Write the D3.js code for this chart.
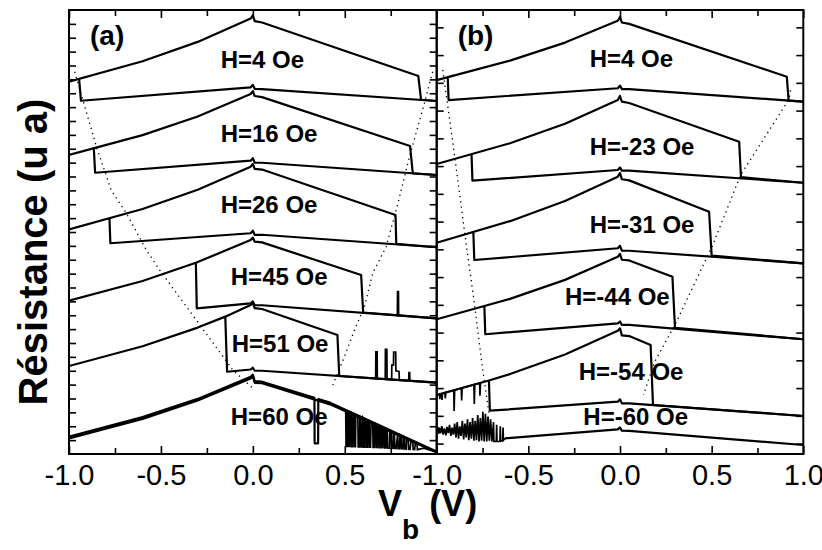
<!DOCTYPE html>
<html><head><meta charset="utf-8">
<script src="https://cdn.jsdelivr.net/npm/d3@7"></script>
<style>body{margin:0;background:#fff}svg{display:block}</style>
</head><body>
<svg id="c" width="822" height="550"></svg>
<script>
// ---------------- DATA ----------------
const xMajorTicks = [-1, -0.5, 0, 0.5, 1];
const xMinorTicks = [-0.75, -0.25, 0.25, 0.75];
const xTickLabelsA = ["-1.0", "-0.5", "0.0", "0.5", ""];
const xTickLabelsB = ["-1.0", "-0.5", "0.0", "0.5", "1.0"];
const yTicksA = [1,2,3,4,5,6,7,8,9,10,11,12,13,14,15,16,17,18,19,20,21,22,23,24,25,26,27,28,29,30,31];
const yTicksB = [0.75,2.75,4.75,6.75,8.75,10.75,12.75,14.75,16.75,18.75,20.75,22.75,24.75,26.75,28.75,30.75];
const fieldsA = ["H=4 Oe", "H=16 Oe", "H=26 Oe", "H=45 Oe", "H=51 Oe", "H=60 Oe"];
const fieldsB = ["H=4 Oe", "H=-23 Oe", "H=-31 Oe", "H=-44 Oe", "H=-54 Oe", "H=-60 Oe"];

// panel (a) sweeps: [V (V), R (arb. units)]
const a4Sweep1 = [[-1,26.83],[-0.6,28.31],[-0.3,29.7],[-0.012,31.38],[0,31.62],[0.01,31.2],[0.05,31.1],[0.90,27.24],[0.915,25.53],[1,25.44]];
const a4Sweep2 = [[-0.945,27.03],[-0.935,25.46],[-0.012,26.43],[0,26.6],[0.01,26.32],[0.05,26.3],[1,25.44]];
const a16Sweep1 = [[-1,21.55],[-0.6,22.98],[-0.3,24.32],[-0.012,25.95],[0,26.15],[0.01,25.8],[0.05,25.72],[0.855,22.2],[0.87,20.23],[1,20.11]];
const a16Sweep2 = [[-0.865,22.05],[-0.858,20.27],[-0.012,21.14],[0,21.32],[0.01,21.0],[0.05,20.99],[1,20.11]];
const a26Sweep1 = [[-1,16.19],[-0.6,17.66],[-0.3,19.04],[-0.012,20.71],[0,20.9],[0.01,20.55],[0.05,20.5],[0.776,17.23],[0.78,15.15],[1,14.9]];
const a26Sweep2 = [[-0.78,17.0],[-0.775,15.19],[-0.012,15.91],[0,16.1],[0.01,15.8],[0.05,15.8],[1,14.9]];
const a45Sweep1 = [[-1,11.05],[-0.6,12.47],[-0.31,13.78],[-0.012,15.42],[0,15.6],[0.01,15.3],[0.05,15.25],[0.589,12.9],[0.6,10.2],[1,9.78]];
const a45Sweep2 = [[-0.31,13.78],[-0.305,10.5],[-0.012,10.86],[0,11.0],[0.01,10.72],[0.05,10.72],[1,9.78]];
const a45Spikes = [[0.78,10.0],[0.786,10.0],[0.787,11.7],[0.792,11.7],[0.793,9.99],[0.8,9.98]];
const a51Sweep1 = [[-1,6.34],[-0.6,7.77],[-0.3,9.11],[-0.15,9.9],[-0.012,10.74],[0,10.9],[0.01,10.52],[0.05,10.45],[0.46,8.58],[0.47,5.62],[1,5.15]];
const a51Sweep2 = [[-0.15,9.9],[-0.14,5.93],[-0.012,6.09],[0,6.22],[0.01,6.0],[0.05,6.0],[1,5.15]];
const a51Spikes = [[0.66,5.46],[0.668,5.45],[0.669,7.37],[0.676,7.37],[0.677,5.44],[0.72,5.40],[0.721,7.55],[0.729,7.55],[0.73,5.39],[0.755,5.37],[0.756,6.4],[0.765,6.4],[0.766,7.35],[0.777,7.35],[0.778,6.0],[0.795,5.95],[0.797,5.33],[0.848,5.29],[0.849,5.86],[0.853,5.86],[0.854,5.28],[0.87,5.27]];
const a60Sweep1 = [[-1,1.25],[-0.6,2.66],[-0.3,3.97],[-0.012,5.57],[0,5.72],[0.01,5.25],[0.05,5.21],[0.335,4.05],[0.336,0.77],[0.355,0.77],[0.356,3.96],[0.42,3.70],[1,0.17]];
const a60Sweep2 = [[-1,1.12],[-0.6,2.53],[-0.3,3.85],[-0.012,5.45],[0,5.6],[0.01,5.13],[0.05,5.1],[0.42,3.58],[1,0.1]];
const a60Noise = [[0.50,3.21],[0.505,3.18],[0.507,0.55],[0.512,0.55],[0.514,3.12],[0.519,3.09],[0.521,0.55],[0.527,0.55],[0.529,3.03],[0.535,2.99],[0.537,0.53],[0.543,0.53],[0.545,2.93],[0.551,2.90],[0.553,0.53],[0.558,0.53],[0.560,2.84],
  [0.571,2.78],[0.573,0.52],[0.580,0.52],[0.582,2.71],[0.587,2.68],[0.589,0.52],[0.594,0.52],[0.598,2.64],
  [0.600,2.60],[0.602,0.5],[0.608,0.5],[0.610,2.54],[0.616,2.51],[0.618,0.5],[0.624,0.5],[0.626,2.45],[0.632,2.41],[0.634,0.49],[0.640,0.49],[0.643,2.34],
  [0.652,2.29],[0.654,0.48],[0.660,0.48],[0.662,2.23],[0.668,2.19],[0.670,0.47],[0.676,0.47],[0.678,2.13],[0.684,2.09],[0.686,0.46],[0.692,0.46],[0.694,2.03],[0.700,1.99],[0.702,0.45],[0.708,0.45],[0.710,1.93],[0.716,1.89],[0.718,0.44],[0.724,0.44],[0.726,1.84],[0.731,1.80],[0.733,0.43],
  [0.743,0.42],[0.745,1.72],[0.752,1.68],[0.754,0.42],[0.762,0.41],[0.764,1.58],[0.770,1.54],[0.772,0.41],[0.779,0.40],
  [0.788,1.46],[0.790,0.39],[0.798,0.39],[0.800,1.39],[0.806,1.35],[0.808,0.38],[0.816,0.37],[0.818,1.28],[0.824,1.24],[0.826,0.37],
  [0.834,0.36],[0.836,1.14],[0.845,1.10],[0.847,0.35],[0.855,0.34],[0.860,0.95],
  [0.870,0.89],[0.872,0.33],[0.880,0.32],[0.884,0.80],[0.893,0.75],[0.895,0.31],[0.93,0.42],[0.96,0.3],[1,0.17]];

// panel (b) sweeps
const b4Sweep1 = [[-1,26.95],[-0.6,28.35],[-0.3,29.65],[-0.012,31.23],[0,31.5],[0.01,31.1],[0.05,31.0],[0.91,27.19],[0.92,25.47],[1,25.39]];
const b4Sweep2 = [[-0.94,27.17],[-0.935,25.51],[-0.012,26.36],[0,26.55],[0.01,26.3],[0.05,26.3],[1,25.39]];
const b23Sweep1 = [[-1,20.9],[-0.6,22.4],[-0.3,23.8],[-0.012,25.51],[0,25.8],[0.01,25.4],[0.05,25.3],[0.65,22.51],[0.66,19.95],[1,19.55]];
const b23Sweep2 = [[-0.81,21.6],[-0.805,19.7],[-0.012,20.47],[0,20.65],[0.01,20.42],[0.05,20.42],[1,19.55]];
const b31Sweep1 = [[-1,15.23],[-0.6,16.78],[-0.3,18.23],[-0.012,19.99],[0,20.25],[0.01,19.8],[0.05,19.72],[0.486,17.46],[0.5,14.3],[1,13.74]];
const b31Sweep2 = [[-0.8,15.97],[-0.795,13.98],[-0.012,14.83],[0,15.0],[0.01,14.65],[0.05,14.65],[1,13.74]];
const b44Sweep1 = [[-1,9.71],[-0.74,10.67],[-0.6,11.18],[-0.3,12.55],[-0.012,14.22],[0,14.42],[0.01,14.0],[0.05,13.95],[0.286,12.78],[0.3,9.1],[1,8.27]];
const b44Sweep2 = [[-0.74,10.67],[-0.735,8.63],[-0.012,9.42],[0,9.55],[0.01,9.3],[0.05,9.3],[1,8.27]];
const b54Sweep1 = [[-1,4.25],[-0.715,5.3],[-0.6,5.76],[-0.3,7.17],[-0.012,8.89],[0,9.06],[0.01,8.55],[0.05,8.5],[0.167,7.86],[0.18,3.53],[1,2.74]];
const b54Sweep2 = [[-0.715,5.3],[-0.71,3.12],[-0.012,3.77],[0,3.94],[0.01,3.65],[0.05,3.65],[1,2.74]];
const b54Noise = [[-0.99,4.29],[-0.985,4.31],[-0.983,3.95],[-0.98,4.32],[-0.973,4.35],[-0.971,3.89],[-0.968,4.37],[-0.955,4.42],[-0.953,4.0],[-0.95,4.44],[-0.907,4.59],[-0.905,3.1],[-0.902,4.6],[-0.866,4.74],[-0.864,3.85],[-0.861,4.76],[-0.797,5.0],[-0.795,3.6],[-0.792,5.01],[-0.766,5.11],[-0.764,4.2],[-0.761,5.12]];
const b60Sweep = [[-0.627,1.13],[-0.012,1.78],[0,1.92],[0.01,1.68],[0.05,1.66],[1,0.65]];
const b60Noise = [[-1,1.7],[-0.995,1.95],[-0.99,1.45],[-0.985,1.9],[-0.978,1.5],[-0.972,2.0],[-0.965,1.4],[-0.958,1.85],[-0.95,1.35],[-0.944,1.95],[-0.937,1.5],[-0.93,2.1],[-0.923,1.3],[-0.916,1.9],[-0.909,1.4],[-0.902,2.2],[-0.895,1.2],[-0.888,2.3],[-0.881,1.1],[-0.874,2.0],[-0.867,1.3],[-0.86,2.4],[-0.853,1.05],[-0.846,2.2],[-0.839,1.2],[-0.832,2.5],[-0.825,1.0],[-0.818,2.3],[-0.811,1.1],[-0.804,2.6],[-0.797,0.95],[-0.79,2.4],[-0.783,1.0],[-0.776,2.8],[-0.769,0.9],[-0.762,2.6],[-0.755,0.95],[-0.748,3.05],[-0.741,0.9],[-0.734,2.9],[-0.727,0.9],[-0.72,2.7],[-0.713,0.95],[-0.706,2.5],[-0.699,0.9],[-0.69,2.3],[-0.688,0.9],[-0.675,0.9],[-0.673,2.1],[-0.671,0.9],[-0.655,0.9],[-0.653,2.0],[-0.651,0.95],[-0.64,0.95],[-0.638,1.9],[-0.636,1.0],[-0.627,1.13]];

// dotted guide lines
const dotsALeft = [[-0.969,27.55],[-0.851,22.15],[-0.77,19.0],[-0.688,17.35],[-0.579,14.7],[-0.507,13.26],[-0.308,9.66],[-0.109,6.05],[0,4.74]];
const dotsARight = [[0.978,27.55],[0.933,25.28],[0.852,21.43],[0.788,18.0],[0.725,14.94],[0.652,13.02],[0.607,10.62],[0.553,8.94],[0.498,7.01],[0.435,4.97]];
const dotsBLeft = [[-0.967,27.68],[-0.914,22.63],[-0.842,15.42],[-0.797,11.1],[-0.751,6.29],[-0.715,2.93]];
const dotsBRight = [[0.93,26.2],[0.922,25.56],[0.658,20.11],[0.506,15.06],[0.304,9.42],[0.185,6.54],[0.128,4.25]];

// ---------------- LAYOUT ----------------
const svg = d3.select("#c");
const FONT = "'Liberation Sans', Arial, Helvetica, sans-serif";
const y = d3.scaleLinear([0, 32], [454, 10]);
const xa = d3.scaleLinear([-1, 1], [69, 436.7]);
const xb = d3.scaleLinear([-1, 1], [436.7, 803.3]);

const labelPosA = [[-0.175,27.82],[-0.175,22.49],[-0.175,17.37],[-0.12,12.18],[-0.115,7.35],[-0.12,2.09]];
const labelPosB = [[-0.165,27.89],[-0.165,21.55],[-0.165,15.93],[-0.3,10.74],[-0.225,5.33],[-0.2,2.09]];

const panels = [
  {id:"a", x: xa, ticksL: yTicksA, ticksR: yTicksA, labels: xTickLabelsA, tag:"(a)",
   curves:[a4Sweep1,a4Sweep2,a16Sweep1,a16Sweep2,a26Sweep1,a26Sweep2,a45Sweep1,a45Sweep2,a51Sweep1,a51Sweep2,a60Sweep1,a60Sweep2],
   noise:[a45Spikes,a51Spikes,a60Noise], dots:[dotsALeft,dotsARight], fields: fieldsA, lpos: labelPosA},
  {id:"b", x: xb, ticksL: yTicksB, ticksR: yTicksB, labels: xTickLabelsB, tag:"(b)",
   curves:[b4Sweep1,b4Sweep2,b23Sweep1,b23Sweep2,b31Sweep1,b31Sweep2,b44Sweep1,b44Sweep2,b54Sweep1,b54Sweep2,b60Sweep],
   noise:[b54Noise,b60Noise], dots:[dotsBLeft,dotsBRight], fields: fieldsB, lpos: labelPosB}
];

panels.forEach(p => {
  const x = p.x;
  const [x0, x1] = x.range();
  const clipId = "clip-" + p.id;
  svg.append("clipPath").attr("id", clipId).append("rect")
    .attr("x", x0).attr("y", 10).attr("width", x1 - x0).attr("height", 444);
  const g = svg.append("g").attr("clip-path", `url(#${clipId})`);
  const line = d3.line().x(d => x(d[0])).y(d => y(d[1]));

  g.selectAll("path.dot").data(p.dots).join("path").attr("class","dot")
    .attr("d", line).attr("fill","none").attr("stroke","#000")
    .attr("stroke-width",1.3).attr("stroke-dasharray","1.3 4");
  g.selectAll("path.noise").data(p.noise).join("path").attr("class","noise")
    .attr("d", line).attr("fill","none").attr("stroke","#000")
    .attr("stroke-width",1.7).attr("stroke-linejoin","miter");
  g.selectAll("path.curve").data(p.curves).join("path").attr("class","curve")
    .attr("d", line).attr("fill","none").attr("stroke","#000")
    .attr("stroke-width",2.2).attr("stroke-linejoin","round");

  // field labels
  svg.selectAll("text.f" + p.id).data(p.fields).join("text").attr("class","f"+p.id)
    .attr("x", (d,i) => x(p.lpos[i][0])).attr("y", (d,i) => y(p.lpos[i][1]))
    .attr("font-family", FONT).attr("font-weight","bold").attr("font-size", 24)
    .text(d => d);

  // panel tag
  svg.append("text").attr("x", x0 + 21).attr("y", 45)
    .attr("font-family", FONT).attr("font-weight","bold").attr("font-size", 28).text(p.tag);

  // axes
  const style = sel => { sel.select(".domain").remove(); sel.selectAll("line").attr("stroke","#000").attr("stroke-width",1.6); };
  svg.append("g").attr("transform","translate(0,10)")
    .call(d3.axisTop(x).tickValues(xMajorTicks).tickSize(-8).tickFormat("")).call(style);
  svg.append("g").attr("transform","translate(0,10)")
    .call(d3.axisTop(x).tickValues(xMinorTicks).tickSize(-6).tickFormat("")).call(style);
  const bottom = svg.append("g").attr("transform","translate(0,454)")
    .call(d3.axisBottom(x).tickValues(xMajorTicks).tickSizeInner(-8).tickSizeOuter(0).tickPadding(10)
      .tickFormat((d,i) => p.labels[i])).call(style);
  bottom.selectAll("text").attr("font-family", FONT).attr("font-size", 29).attr("fill","#000");
  bottom.selectAll("text").filter(function(){ return this.textContent === ""; }).remove();
  svg.append("g").attr("transform","translate(0,454)")
    .call(d3.axisBottom(x).tickValues(xMinorTicks).tickSize(-6).tickFormat("")).call(style);
  svg.append("g").attr("transform",`translate(${x0},0)`)
    .call(d3.axisLeft(y).tickValues(p.ticksL).tickSize(-7).tickFormat("")).call(style);
  svg.append("g").attr("transform",`translate(${x1},0)`)
    .call(d3.axisRight(y).tickValues(p.ticksR).tickSize(-7).tickFormat("")).call(style);

  svg.append("rect").attr("x", x0).attr("y", 10).attr("width", x1 - x0).attr("height", 444)
    .attr("fill","none").attr("stroke","#000").attr("stroke-width",2);
});

// axis titles
svg.append("text").attr("transform","translate(47,252) rotate(-90)")
  .attr("text-anchor","middle").attr("font-family", FONT).attr("font-weight","bold")
  .attr("font-size", 40).text("Résistance (u a)");
const xt = svg.append("text").attr("x", 378).attr("y", 516)
  .attr("font-family", FONT).attr("font-weight","bold").attr("font-size", 36);
xt.append("tspan").text("V");
xt.append("tspan").attr("font-size", 28).attr("dy", 23).text("b");
xt.append("tspan").attr("dy", -23).text(" (V)");
</script>
</body></html>
